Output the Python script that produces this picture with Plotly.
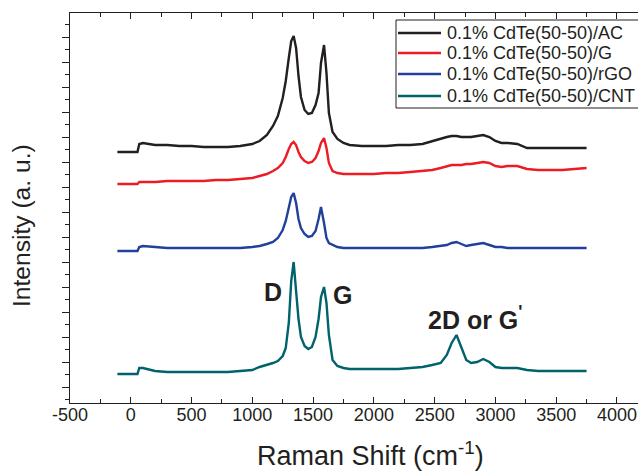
import plotly.graph_objects as go

# Raman shift grid (cm^-1)
raman_shift = [-110, 55, 70, 100, 200, 300, 400, 500, 600, 700, 800, 900, 1000, 1060, 1120,
               1170, 1210, 1250, 1275, 1300, 1320, 1340, 1360, 1380, 1400, 1430, 1460, 1490,
               1520, 1545, 1565, 1590, 1610, 1630, 1660, 1700, 1750, 1800, 1900, 2000, 2100,
               2200, 2300, 2400, 2480, 2550, 2600, 2640, 2680, 2720, 2760, 2800, 2850, 2900,
               2950, 3000, 3050, 3100, 3180, 3260, 3350, 3450, 3550, 3650, 3750]

# Intensities (a.u., stacked offsets as in the figure)
int_ac = [251, 251, 259, 260, 258, 258, 257, 257, 256, 256, 256, 257, 259, 262, 268,
          277, 287, 305, 322, 345, 362, 367, 355, 327, 306, 293, 289, 290,
          298, 310, 340, 358, 330, 290, 271, 264, 260, 258, 257, 257, 257,
          258, 258, 259, 262, 264, 266, 267, 267, 266, 266, 266, 267, 268,
          266, 262, 260, 260, 259, 255, 255, 255, 255, 255, 255]

int_g = [219, 219, 221, 221, 221, 222, 222, 222, 222, 223, 223, 224, 225, 227, 229,
         232, 235, 240, 246, 254, 259, 261, 258, 251, 246, 242, 240, 241,
         245, 252, 260, 265, 255, 240, 232, 230, 229, 229, 229, 229, 230,
         230, 231, 232, 233, 235, 237, 238, 238, 238, 239, 239, 240, 241,
         240, 237, 236, 237, 237, 234, 233, 233, 233, 234, 235]

int_rgo = [152, 152, 156, 157, 156, 155, 155, 155, 155, 155, 155, 155, 156, 157, 159,
           161, 165, 173, 182, 195, 206, 210, 200, 184, 175, 169, 166, 167,
           172, 184, 196, 180, 165, 160, 158, 156, 155, 155, 155, 155, 155,
           155, 155, 155, 156, 157, 158, 160, 161, 159, 157, 158, 159, 160,
           158, 156, 156, 155, 155, 155, 155, 155, 155, 155, 155]

int_cnt = [29, 29, 35, 35, 32, 31, 31, 31, 31, 31, 31, 32, 33, 36, 38,
           40, 42, 47, 55, 80, 122, 141, 112, 84, 66, 57, 54, 56,
           66, 84, 106, 116, 100, 68, 43, 37, 35, 34, 34, 34, 34,
           34, 35, 36, 38, 40, 48, 60, 68, 55, 43, 40, 41, 44,
           41, 36, 35, 35, 35, 33, 32, 32, 32, 32, 32]

series_names = ["0.1% CdTe(50-50)/AC", "0.1% CdTe(50-50)/G",
                "0.1% CdTe(50-50)/rGO", "0.1% CdTe(50-50)/CNT"]
series_values = [int_ac, int_g, int_rgo, int_cnt]
series_colors = ["#231F20", "#ED1C24", "#21409A", "#00626B"]

x_ticks = [-500, 0, 500, 1000, 1500, 2000, 2500, 3000, 3500, 4000]

FONT = "Liberation Sans, Arial, sans-serif"
INK = "#231F20"

# plot area geometry in pixels (used to place paper-referenced decorations)
W, H = 638, 471
L, R, T, B = 70, 0, 13, 68
PW, PH = W - L - R, H - T - B


def px_x(px):
    return (px - L) / PW


def px_y(py):
    return (H - B - py) / PH


fig = go.Figure()
for name, vals, col in zip(series_names, series_values, series_colors):
    fig.add_trace(go.Scatter(x=raman_shift, y=vals, mode="lines", name=name,
                             line=dict(color=col, width=2.4), showlegend=False))

# hand-drawn legend box (extends past the right edge, as in the reference)
shapes = [dict(type="rect", xref="paper", yref="paper",
               x0=px_x(396), x1=px_x(650), y0=px_y(108), y1=px_y(20),
               line=dict(color=INK, width=1), fillcolor="white", layer="above")]
annotations = []
row_y = [33, 53, 74, 96]
for name, col, ry in zip(series_names, series_colors, row_y):
    shapes.append(dict(type="line", xref="paper", yref="paper",
                       x0=px_x(398), x1=px_x(441), y0=px_y(ry), y1=px_y(ry),
                       line=dict(color=col, width=2.5), layer="above"))
    annotations.append(dict(text=name, xref="paper", yref="paper",
                            x=px_x(445), y=px_y(ry), xanchor="left", yanchor="middle",
                            showarrow=False, font=dict(size=18, family=FONT, color=INK)))

annotations += [
    dict(text="Raman Shift (cm<sup>-1</sup>)", xref="paper", yref="paper",
         x=px_x(370), y=px_y(454), xanchor="center", yanchor="middle",
         showarrow=False, font=dict(size=27, family=FONT, color=INK)),
    dict(text="Intensity (a. u.)", xref="paper", yref="paper",
         x=px_x(21), y=px_y(226), xanchor="center", yanchor="middle",
         textangle=-90, showarrow=False, font=dict(size=24.6, family=FONT, color=INK)),
    dict(text="<b>D</b>", x=1166, y=111, showarrow=False,
         font=dict(size=25, family=FONT, color=INK)),
    dict(text="<b>G</b>", x=1738, y=108, showarrow=False,
         font=dict(size=25, family=FONT, color=INK)),
    dict(text="<b>2D or G<sup>'</sup></b>", x=2830, y=85, showarrow=False,
         font=dict(size=25, family=FONT, color=INK)),
]

fig.update_layout(
    width=W, height=H,
    margin=dict(l=L, r=R, t=T, b=B, autoexpand=False),
    paper_bgcolor="white", plot_bgcolor="white",
    font=dict(family=FONT, color=INK, size=18),
    showlegend=False,
    xaxis=dict(range=[-500, 4173], tickvals=x_ticks, ticktext=[str(v) for v in x_ticks],
               automargin=False,
               showline=True, linecolor=INK, linewidth=1.3, mirror="ticks",
               ticks="inside", ticklen=6, tickwidth=1.2, tickcolor=INK,
               ticklabelstandoff=-5,
               minor=dict(dtick=250, tick0=-500, ticks="inside", ticklen=4, tickcolor=INK, tickwidth=1),
               showgrid=False, zeroline=False,
               tickfont=dict(size=18, family=FONT, color=INK)),
    yaxis=dict(range=[0, 390], showticklabels=False, automargin=False,
               showline=True, linecolor=INK, linewidth=1.3,
               ticks="outside", ticklen=7, tickwidth=1.2, tickcolor=INK,
               tick0=16, dtick=25,
               minor=dict(dtick=12.5, tick0=3.5, ticks="outside", ticklen=4, tickcolor=INK, tickwidth=1),
               showgrid=False, zeroline=False),
    shapes=shapes,
    annotations=annotations,
)

fig.write_html("out.html")
